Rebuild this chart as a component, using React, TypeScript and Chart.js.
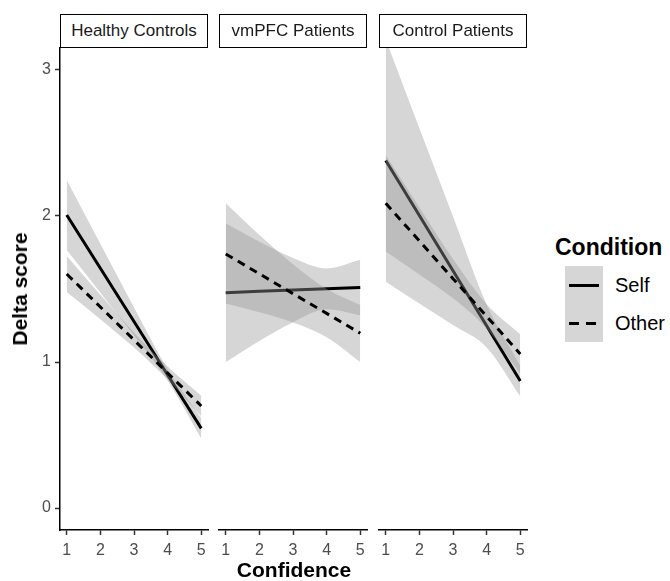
import React, { useEffect, useRef } from "react";
import { Chart, registerables } from "chart.js";

Chart.register(...registerables);

// ---------------- data ----------------
const confidence = [1, 2, 3, 4, 5];
const xTicks = [1, 2, 3, 4, 5];
const yTicks = [0, 1, 2, 3];
const panelTitles = ["Healthy Controls", "vmPFC Patients", "Control Patients"];
const conditions = ["Self", "Other"];

// Healthy Controls
const hcSelf = [2.007, 1.642, 1.277, 0.911, 0.546];
const hcSelfUpper = [2.247, 1.809, 1.373, 0.951, 0.616];
const hcSelfLower = [1.767, 1.475, 1.181, 0.871, 0.476];
const hcOther = [1.603, 1.377, 1.151, 0.925, 0.699];
const hcOtherUpper = [1.726, 1.461, 1.203, 0.969, 0.769];
const hcOtherLower = [1.48, 1.293, 1.099, 0.881, 0.629];

// vmPFC Patients
const vmSelf = [1.475, 1.484, 1.493, 1.501, 1.51];
const vmSelfUpper = [1.95, 1.824, 1.713, 1.641, 1.7];
const vmSelfLower = [1.0, 1.144, 1.273, 1.361, 1.32];
const vmOther = [1.74, 1.604, 1.468, 1.333, 1.197];
const vmOtherUpper = [2.087, 1.87, 1.67, 1.5, 1.39];
const vmOtherLower = [1.4, 1.34, 1.27, 1.17, 1.0];

// Control Patients
const cpSelf = [2.38, 2.003, 1.625, 1.248, 0.87];
const cpSelfUpper = [3.21, 2.6, 1.997, 1.394, 0.975];
const cpSelfLower = [1.55, 1.4, 1.253, 1.1, 0.765];
const cpOther = [2.087, 1.829, 1.571, 1.313, 1.055];
const cpOtherUpper = [2.417, 2.058, 1.705, 1.396, 1.19];
const cpOtherLower = [1.757, 1.6, 1.437, 1.23, 0.92];

const panelData = [
  { self: hcSelf, selfUp: hcSelfUpper, selfLo: hcSelfLower, other: hcOther, otherUp: hcOtherUpper, otherLo: hcOtherLower },
  { self: vmSelf, selfUp: vmSelfUpper, selfLo: vmSelfLower, other: vmOther, otherUp: vmOtherUpper, otherLo: vmOtherLower },
  { self: cpSelf, selfUp: cpSelfUpper, selfLo: cpSelfLower, other: cpOther, otherUp: cpOtherUpper, otherLo: cpOtherLower },
];

// ---------------- layout / style ----------------
const FONT = "'Liberation Sans', Arial, sans-serif";
const PLOT_TOP = 48;
const PLOT_H = 482;
const PLOT_W = 148;
const PLOT_LEFTS = [60, 219, 379];
const X_AXIS_H = 42;
const Y_AXIS_W = 60;
const SIDE_PAD = 10;
const TOP_PAD = 20;
const RIBBON = "rgba(153,153,153,0.4)";
const AXIS_COLOR = "#000000";
const TICK_TEXT = "#4d4d4d";

const pts = (ys: number[]) => confidence.map((x, i) => ({ x, y: ys[i] }));

function Panel({ index }: { index: number }) {
  const ref = useRef<HTMLCanvasElement | null>(null);
  const showY = index === 0;
  const leftPad = showY ? Y_AXIS_W : SIDE_PAD;
  const width = leftPad + PLOT_W + SIDE_PAD;
  const height = TOP_PAD + PLOT_H + X_AXIS_H;
  const left = PLOT_LEFTS[index] - leftPad;

  useEffect(() => {
    if (!ref.current) return;
    const d = panelData[index];
    const ribbon = (label: string, ys: number[], order: number, fill: any) => ({
      label,
      data: pts(ys),
      borderWidth: 0,
      borderColor: "transparent",
      backgroundColor: RIBBON,
      pointRadius: 0,
      cubicInterpolationMode: "monotone" as const,
      fill,
      order,
    });
    const chart = new Chart(ref.current, {
      type: "line",
      data: {
        datasets: [
          ribbon(conditions[0] + " upper", d.selfUp, 6, "+1"),
          ribbon(conditions[0] + " lower", d.selfLo, 5, false),
          {
            label: conditions[0],
            data: pts(d.self),
            borderColor: "#000000",
            borderWidth: 3,
            pointRadius: 0,
            fill: false,
            tension: 0,
            borderCapStyle: "butt",
            order: 4,
          },
          ribbon(conditions[1] + " upper", d.otherUp, 3, "+1"),
          ribbon(conditions[1] + " lower", d.otherLo, 2, false),
          {
            label: conditions[1],
            data: pts(d.other),
            borderColor: "#000000",
            borderWidth: 3,
            borderDash: [8, 6],
            pointRadius: 0,
            fill: false,
            tension: 0,
            borderCapStyle: "butt",
            order: 1,
          },
        ],
      },
      options: {
        animation: false,
        responsive: false,
        maintainAspectRatio: false,
        events: [],
        layout: { padding: { left: showY ? 0 : SIDE_PAD, right: SIDE_PAD, top: TOP_PAD, bottom: 0 } },
        plugins: { legend: { display: false }, tooltip: { enabled: false }, title: { display: false } },
        scales: {
          x: {
            type: "linear",
            min: 0.8,
            max: 5.2,
            afterBuildTicks: (axis: any) => {
              axis.ticks = xTicks.map((v) => ({ value: v }));
            },
            afterFit: (axis: any) => {
              axis.height = X_AXIS_H;
            },
            border: { display: true, color: AXIS_COLOR, width: 1.5 },
            grid: { display: true, drawOnChartArea: false, drawTicks: true, tickLength: 5, tickColor: "#333333", tickWidth: 1.5 },
            ticks: {
              autoSkip: false,
              maxRotation: 0,
              minRotation: 0,
              padding: 6,
              color: TICK_TEXT,
              font: { family: FONT, size: 16 },
              callback: (v: any) => String(v),
            },
          },
          y: {
            type: "linear",
            display: showY,
            min: -0.15,
            max: 3.15,
            afterBuildTicks: (axis: any) => {
              axis.ticks = yTicks.map((v) => ({ value: v }));
            },
            afterFit: (axis: any) => {
              if (showY) axis.width = Y_AXIS_W;
            },
            border: { display: true, color: AXIS_COLOR, width: 1.5 },
            grid: { display: true, drawOnChartArea: false, drawTicks: true, tickLength: 5, tickColor: "#333333", tickWidth: 1.5 },
            ticks: {
              padding: 4,
              color: TICK_TEXT,
              font: { family: FONT, size: 16 },
              callback: (v: any) => String(v),
            },
          },
        },
      },
    } as any);
    return () => chart.destroy();
  }, [index]);

  return (
    <div style={{ position: "absolute", left, top: PLOT_TOP - TOP_PAD, width, height }}>
      <canvas ref={ref} width={width} height={height} style={{ width, height, display: "block" }} />
    </div>
  );
}

function Strip({ index }: { index: number }) {
  return (
    <div
      style={{
        position: "absolute",
        left: PLOT_LEFTS[index],
        top: 14,
        width: PLOT_W,
        height: 34,
        boxSizing: "border-box",
        border: "1.6px solid #000",
        display: "flex",
        alignItems: "center",
        justifyContent: "center",
        fontFamily: FONT,
        fontSize: 17,
        color: "#1a1a1a",
        background: "#fff",
      }}
    >
      {panelTitles[index]}
    </div>
  );
}

const legendText: React.CSSProperties = {
  position: "absolute",
  left: 615,
  fontFamily: FONT,
  fontSize: 20,
  color: "#000",
  lineHeight: "24px",
  whiteSpace: "nowrap",
};

export default function App() {
  return (
    <div style={{ position: "absolute", left: 0, top: 0, width: 670, height: 581, background: "#fff", overflow: "hidden" }}>
      {[0, 1, 2].map((i) => (
        <Panel key={"p" + i} index={i} />
      ))}
      {[0, 1, 2].map((i) => (
        <Strip key={"s" + i} index={i} />
      ))}
      <div
        style={{
          position: "absolute",
          left: 20,
          top: 289,
          transform: "translate(-50%, -50%) rotate(-90deg)",
          fontFamily: FONT,
          fontWeight: "bold",
          fontSize: 21,
          color: "#000",
          whiteSpace: "nowrap",
        }}
      >
        Delta score
      </div>
      <div
        style={{
          position: "absolute",
          left: 294,
          top: 570,
          transform: "translate(-50%, -50%)",
          fontFamily: FONT,
          fontWeight: "bold",
          fontSize: 21,
          color: "#000",
          whiteSpace: "nowrap",
        }}
      >
        Confidence
      </div>
      <div
        style={{
          position: "absolute",
          left: 555,
          top: 247,
          transform: "translateY(-50%)",
          fontFamily: FONT,
          fontWeight: "bold",
          fontSize: 23,
          color: "#000",
          whiteSpace: "nowrap",
        }}
      >
        Condition
      </div>
      <div style={{ position: "absolute", left: 565, top: 266, width: 38, height: 76, background: "#d6d6d6" }}>
        <div style={{ position: "absolute", left: 4, top: 18, width: 30, height: 3, background: "#000" }} />
        <div style={{ position: "absolute", left: 4, top: 56, width: 10, height: 3, background: "#000" }} />
        <div style={{ position: "absolute", left: 21, top: 56, width: 10, height: 3, background: "#000" }} />
      </div>
      <div style={{ ...legendText, top: 273 }}>{conditions[0]}</div>
      <div style={{ ...legendText, top: 311 }}>{conditions[1]}</div>
    </div>
  );
}
